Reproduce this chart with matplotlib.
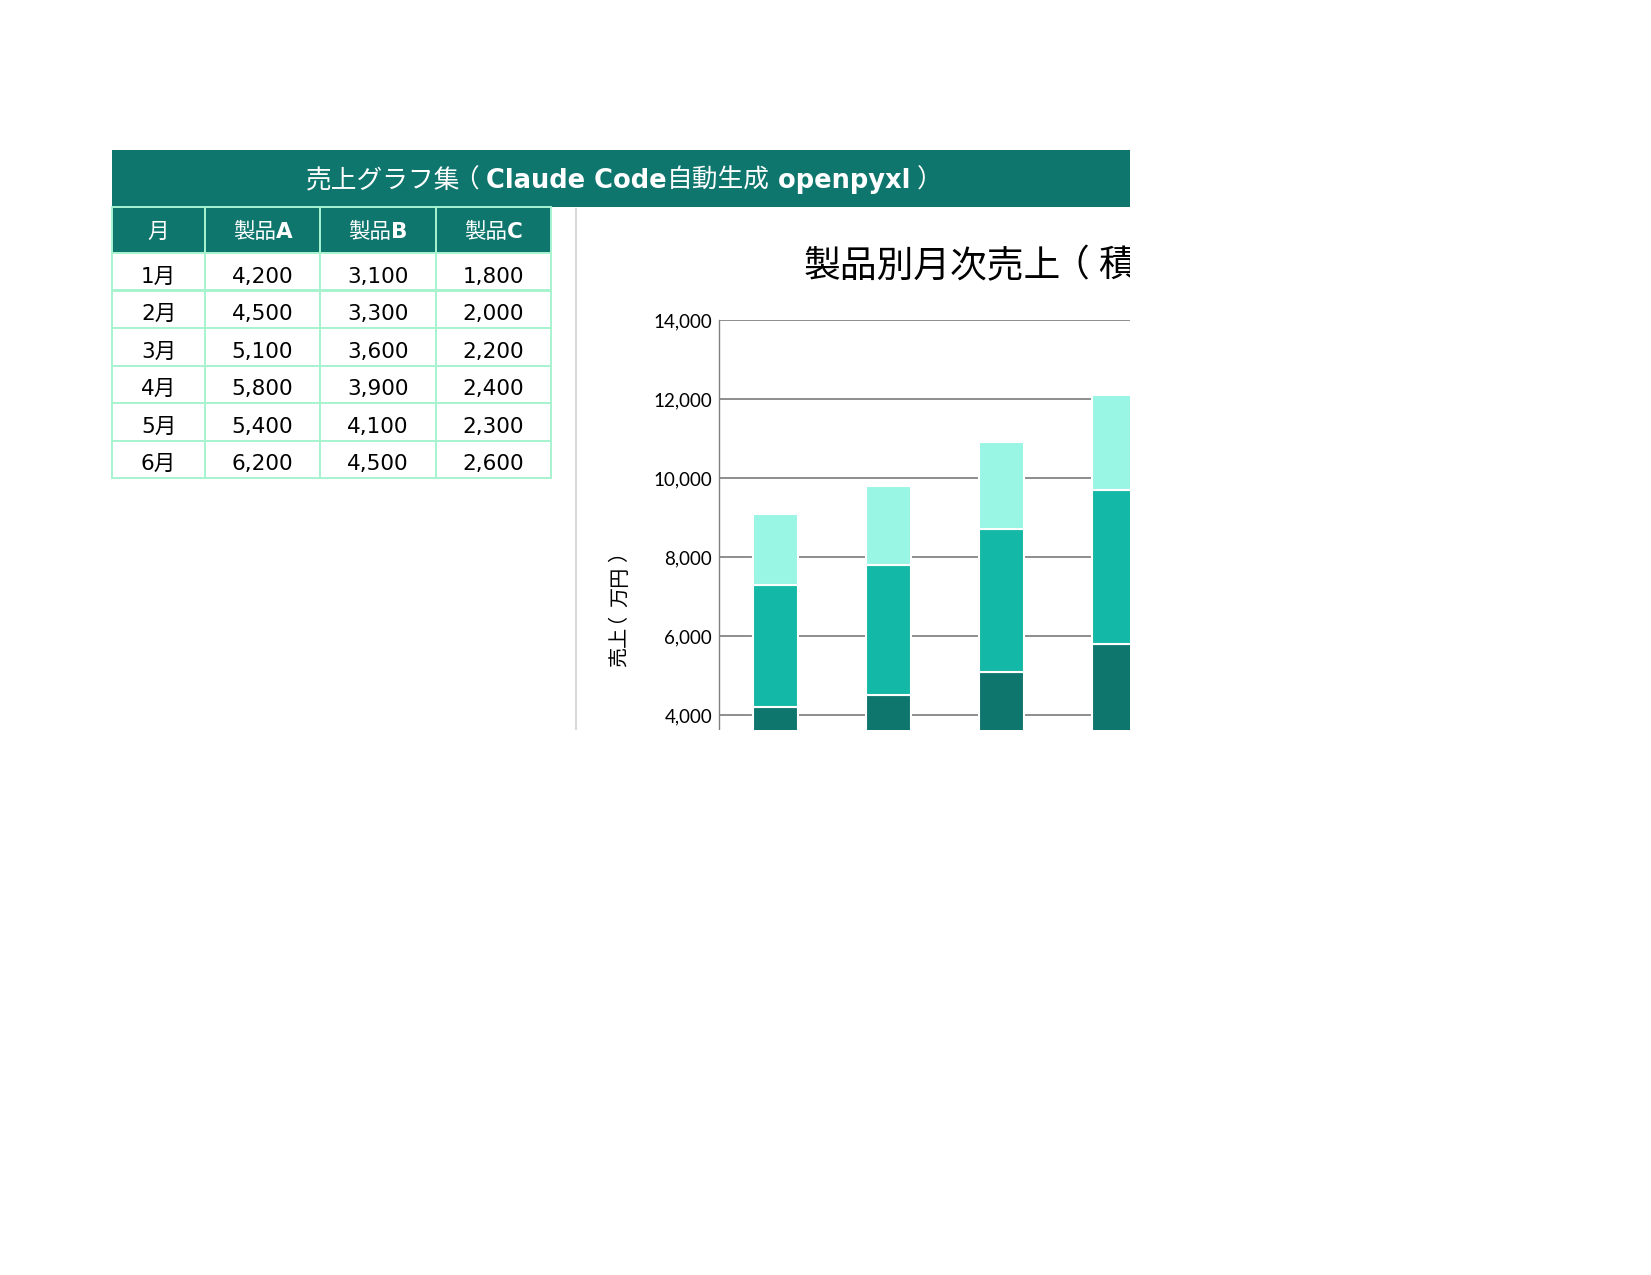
import matplotlib
matplotlib.use('Agg')
import matplotlib.pyplot as plt
from matplotlib import font_manager
from matplotlib.font_manager import FontProperties
from matplotlib.patches import Rectangle
from matplotlib.lines import Line2D
from matplotlib.ticker import FuncFormatter

# data
months = ['1月', '2月', '3月', '4月', '5月', '6月']
product_a = [4200, 4500, 5100, 5800, 5400, 6200]
product_b = [3100, 3300, 3600, 3900, 4100, 4500]
product_c = [1800, 2000, 2200, 2400, 2300, 2600]
headers = ['月', '製品A', '製品B', '製品C']
y_label_parts = ['売上', '（', '万円', '）']

W, H = 1651, 1275
TEAL = '#0f766e'
MID = '#14b8a6'
LIGHT = '#99f6e4'
BORDER = '#a7f3d0'
CJK = 'Noto Sans CJK JP'
MIXED = ['DejaVu Sans', CJK]

fig = plt.figure(figsize=(W / 100, H / 100), dpi=100)
fig.patch.set_facecolor('white')


def fx(x):
    return x / W


def fy(y):
    return 1 - y / H


def add_rect(x0, y0, x1, y1, fc, ec='none', lw=0, z=1):
    r = Rectangle((fx(x0), fy(y1)), (x1 - x0) / W, (y1 - y0) / H,
                  transform=fig.transFigure, facecolor=fc, edgecolor=ec,
                  linewidth=lw, zorder=z)
    fig.patches.append(r)


# fullwidth brackets drawn centred in their box (shifted a quarter em)
OPEN = ('（', CJK, 'normal', -0.25)
CLOSE = ('）', CJK, 'normal', 0.25)


def draw_runs(x, y, runs, size, color, align='center'):
    # mixed runs: latin in bold, CJK stays regular
    renderer = fig.canvas.get_renderer()
    em = size * 100 / 72
    items = []
    total = 0
    for run in runs:
        s, fam, wt = run[:3]
        dx = run[3] if len(run) > 3 else 0
        t = fig.text(0, fy(y), s, fontsize=size, family=fam, weight=wt, color=color,
                     ha='left', va='baseline', zorder=5)
        w = t.get_window_extent(renderer).width
        items.append((t, w, dx * em))
        total += w
    cur = x - total / 2 if align == 'center' else x
    for t, w, off in items:
        t.set_x(fx(cur + off))
        cur += w


def ink_left(s, size):
    # left bearing that agg adds sideways even for rotated text
    f = font_manager.get_font(font_manager.findfont(FontProperties(family=CJK)))
    f.set_size(size, 100)
    f.set_text(s, 0)
    return f.get_bitmap_offset()[0] / 64


# sheet title bar
add_rect(112, 150, 1130, 207, TEAL)
draw_runs(621, 188, [('売上グラフ集', CJK, 'normal'), OPEN,
                     ('Claude Code', 'DejaVu Sans', 'bold'),
                     ('自動生成', CJK, 'normal'),
                     (' openpyxl', 'DejaVu Sans', 'bold'), CLOSE], 18.5, 'white')

# table
col_x = [112, 205, 320, 436, 551]
row_y = [207, 253, 290.5, 328, 365.5, 403, 440.5, 478]
for j in range(4):
    add_rect(col_x[j], row_y[0], col_x[j + 1], row_y[1], TEAL, BORDER, 1.4, z=2)
    xc = (col_x[j] + col_x[j + 1]) / 2
    yb = (row_y[0] + row_y[1]) / 2 + 8
    h = headers[j]
    if h.startswith('製品'):
        draw_runs(xc, yb, [('製品', CJK, 'normal'), (h[2:], 'DejaVu Sans', 'bold')], 15.5, 'white')
    else:
        draw_runs(xc, yb, [(h, CJK, 'normal')], 15.5, 'white')

for i, m in enumerate(months):
    vals = [m, f'{product_a[i]:,}', f'{product_b[i]:,}', f'{product_c[i]:,}']
    for j in range(4):
        add_rect(col_x[j], row_y[i + 1], col_x[j + 1], row_y[i + 2], 'white', BORDER, 1.4, z=2)
        xc = (col_x[j] + col_x[j + 1]) / 2
        yc = (row_y[i + 1] + row_y[i + 2]) / 2
        fig.text(fx(xc), fy(yc + 11), vals[j], fontsize=15.5, family=MIXED,
                 ha='center', va='baseline', color='black', zorder=5)

# chart frame left border
fig.lines.append(Line2D([fx(576), fx(576)], [fy(209), fy(730)],
                        transform=fig.transFigure, color='#d9d9d9', linewidth=1.5, zorder=3))

# plot area: 0 at y=873, 14000 at y=320, category width 113
ax = fig.add_axes([fx(719), fy(873), 678 / W, 553 / H])
x = range(len(months))
bottom_b = [a for a in product_a]
bottom_c = [a + b for a, b in zip(product_a, product_b)]
kw = dict(width=0.4, edgecolor='white', linewidth=1.5, zorder=3)
ax.bar(x, product_a, color=TEAL, **kw)
ax.bar(x, product_b, bottom=bottom_b, color=MID, **kw)
ax.bar(x, product_c, bottom=bottom_c, color=LIGHT, **kw)
ax.set_xlim(-0.5, len(months) - 0.5)
ax.set_ylim(0, 14000)
ax.set_yticks(range(0, 14001, 2000))
ax.yaxis.set_major_formatter(FuncFormatter(lambda v, p: f'{int(v):,}'))
ax.yaxis.grid(True, color='#808080', linewidth=1.25, zorder=1)
ax.set_axisbelow(True)
ax.set_xticks([])
for s in ['top', 'right', 'bottom']:
    ax.spines[s].set_visible(False)
ax.spines['left'].set_color('#808080')
ax.spines['left'].set_linewidth(1.0)
ax.tick_params(axis='y', length=0, pad=5, labelsize=13.5)
for lab in ax.get_yticklabels():
    lab.set_family('Lato')

# y axis title, vertical: each piece centred in its own box, reading upward
em = 14.5 * 100 / 72
ypos = 667
for part in y_label_parts:
    n = len(part)
    xo = ink_left(part, 14.5)
    lift = 0.22 * em if part in ('（', '）') else 0
    fig.text(fx(621 - xo), fy(ypos - n * em / 2 - lift), part, rotation=90, family=CJK,
             fontsize=14.5, ha='center', va='center', zorder=5)
    ypos -= n * em

# chart title (cut off on the right)
draw_runs(804, 276, [('製品別月次売上', CJK, 'normal'), OPEN,
                     ('積み上げ', CJK, 'normal'), CLOSE],
          26.5, 'black', align='left')

# the chart is cut off by the visible sheet range
add_rect(1130, 0, W + 5, H + 5, 'white', z=100)
add_rect(560, 729.5, W + 5, H + 5, 'white', z=100)

fig.savefig('out.png', dpi=100, facecolor='white')
